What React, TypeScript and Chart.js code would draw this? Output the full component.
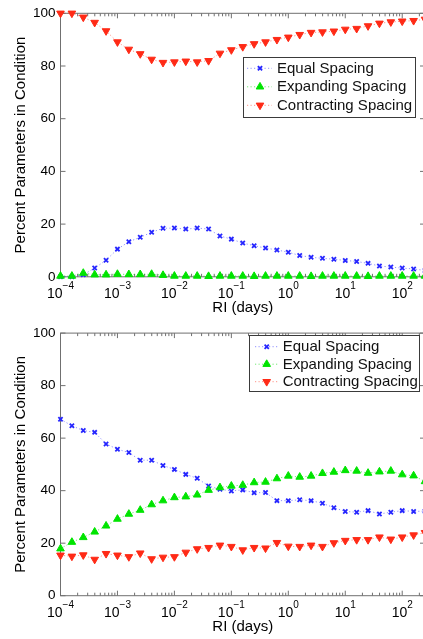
import { useEffect, useRef } from 'react';
import { Chart, registerables } from 'chart.js';
import { drawPoint } from 'chart.js/helpers';

Chart.register(...registerables);

// ---------- data ----------
const RI_DAYS = [
  0.0001, 0.0001585, 0.0002512, 0.0003981, 0.000631,
  0.001, 0.001585, 0.002512, 0.003981, 0.00631,
  0.01, 0.01585, 0.02512, 0.03981, 0.0631,
  0.1, 0.1585, 0.2512, 0.3981, 0.631,
  1, 1.585, 2.512, 3.981, 6.31,
  10, 15.85, 25.12, 39.81, 63.1,
  100, 158.5, 251.2,
];
const X_AXIS_MIN = 0.0001;
const X_AXIS_MAX = 251.19;
const X_TICK_EXPONENTS = [-4, -3, -2, -1, 0, 1, 2];
const Y_TICKS = [0, 20, 40, 60, 80, 100];
const SERIES_LABELS = ['Equal Spacing', 'Expanding Spacing', 'Contracting Spacing'];
const X_TITLE = 'RI (days)';
const Y_TITLE = 'Percent Parameters in Condition';

const TOP_EQUAL = [
  0, 0, 0.8, 3.3, 6.3, 10.5, 13.3, 15, 16.9, 18.4, 18.5, 18.1, 18.5, 18.1, 15.5, 14.3,
  12.8, 11.8, 10.9, 10.2, 9.3, 8.1, 7.4, 7, 6.7, 6.2, 5.8, 5.1, 4.1, 3.7, 3.3, 3, 2.4,
];
const TOP_EXPANDING = [
  0.3, 0.3, 1.4, 0.8, 0.8, 1, 0.9, 0.9, 1, 0.6, 0.3, 0.3, 0.3, 0.2, 0.3, 0.3,
  0.3, 0.2, 0.3, 0.3, 0.3, 0.3, 0.2, 0.3, 0.3, 0.3, 0.3, 0.2, 0.3, 0.3, 0.3, 0.3, 0.3,
];
const TOP_CONTRACTING = [
  100, 100, 98.5, 96.5, 93.3, 89.1, 86.3, 84.6, 82.5, 81.3, 81.5, 81.8, 81.5, 82, 84.8, 86.1,
  87.3, 88.4, 89.1, 90, 90.9, 91.9, 92.7, 92.9, 93.2, 93.9, 94.2, 95.2, 96.2, 96.7, 97, 97.2, 97.7,
];

const BOTTOM_EQUAL = [
  67.2, 64.7, 62.9, 62.2, 57.8, 55.8, 54.5, 51.6, 51.6, 49.6, 48.1, 46.2, 44.7, 41.8, 40.5, 39.9,
  40.3, 39.2, 39.3, 36.2, 36.2, 36.5, 36.2, 35.2, 33.5, 32.1, 31.8, 32.4, 31.1, 31.8, 32.4, 32.1, 32.2,
];
const BOTTOM_EXPANDING = [
  17.9, 20.4, 22.2, 24.3, 26.6, 29.2, 31.1, 32.6, 34.7, 36.2, 37.4, 37.7, 38.4, 40.2, 41.2, 41.8,
  42.1, 43.1, 43.3, 44.6, 45.6, 45.2, 45.6, 46.6, 47.1, 47.7, 47.5, 46.7, 47.2, 47.5, 46.1, 45.7, 43.5,
];
const BOTTOM_CONTRACTING = [
  15.4, 15, 15.5, 13.8, 16, 15.4, 14.8, 16.2, 14, 14.6, 14.8, 16.5, 17.8, 18.3, 19.2, 18.7,
  17.4, 18.3, 18.1, 20.2, 18.8, 18.7, 19.2, 18.7, 20.1, 21, 21.3, 21.3, 22.3, 21.5, 22.3, 23.1, 24,
];

// ---------- styling ----------
const FONT = '"Liberation Sans", Arial, Helvetica, sans-serif';
const FRAME_COLOR = '#707070';

const framePlugin = {
  id: 'matlabFrame',
  beforeDatasetsDraw(chart: any) {
    const { ctx, chartArea: a, scales } = chart;
    const x = scales.x;
    const y = scales.y;
    ctx.save();
    ctx.strokeStyle = FRAME_COLOR;
    ctx.lineWidth = 1;
    ctx.strokeRect(a.left, a.top, a.right - a.left, a.bottom - a.top);
    ctx.beginPath();
    for (const e of X_TICK_EXPONENTS) {
      for (let m = 1; m <= 9; m++) {
        const v = m * Math.pow(10, e);
        if (v < x.min * 0.999 || v > x.max) continue;
        const px = x.getPixelForValue(v);
        const len = m === 1 ? 5 : 3;
        ctx.moveTo(px, a.bottom);
        ctx.lineTo(px, a.bottom - len);
        ctx.moveTo(px, a.top);
        ctx.lineTo(px, a.top + len);
      }
    }
    for (const v of Y_TICKS) {
      const py = y.getPixelForValue(v);
      ctx.moveTo(a.left, py);
      ctx.lineTo(a.left + 5, py);
      ctx.moveTo(a.right, py);
      ctx.lineTo(a.right - 5, py);
    }
    ctx.stroke();

    ctx.fillStyle = '#000';
    ctx.textAlign = 'left';
    ctx.textBaseline = 'alphabetic';
    for (const e of X_TICK_EXPONENTS) {
      const px = x.getPixelForValue(Math.pow(10, e));
      const base = '10';
      const exp = e < 0 ? '\u2212' + String(-e) : String(e);
      ctx.font = `14px ${FONT}`;
      const wb = ctx.measureText(base).width;
      ctx.font = `10px ${FONT}`;
      const we = ctx.measureText(exp).width;
      const start = px - (wb + we) / 2;
      ctx.font = `14px ${FONT}`;
      ctx.fillText(base, start, a.bottom + 21.5);
      ctx.font = `10px ${FONT}`;
      ctx.fillText(exp, start + wb, a.bottom + 12);
    }
    ctx.restore();
  },
};

const legendPlugin = {
  id: 'boxLegend',
  afterDatasetsDraw(chart: any, _args: any, opts: any) {
    const { ctx } = chart;
    const [x0, y0, x1, y1] = opts.box;
    ctx.save();
    ctx.fillStyle = '#fff';
    ctx.fillRect(x0, y0, x1 - x0, y1 - y0);
    ctx.strokeStyle = '#3a3a3a';
    ctx.lineWidth = 1;
    ctx.strokeRect(x0 + 0.5, y0 + 0.5, x1 - x0, y1 - y0);
    chart.data.datasets.forEach((ds: any, i: number) => {
      const ry = opts.rows[i];
      ctx.setLineDash(ds.borderDash || []);
      ctx.strokeStyle = ds.borderColor;
      ctx.lineWidth = ds.borderWidth;
      ctx.beginPath();
      ctx.moveTo(opts.line[0], ry);
      ctx.lineTo(opts.line[1], ry);
      ctx.stroke();
      ctx.setLineDash([]);
      ctx.fillStyle = ds.pointBackgroundColor;
      ctx.strokeStyle = ds.pointBorderColor;
      ctx.lineWidth = ds.pointBorderWidth;
      drawPoint(
        ctx,
        {
          pointStyle: ds.pointStyle,
          rotation: ds.pointRotation || 0,
          radius: ds.pointRadius,
          borderWidth: ds.pointBorderWidth,
        } as any,
        opts.marker,
        ry
      );
      ctx.fillStyle = '#111';
      ctx.font = `15px ${FONT}`;
      ctx.textAlign = 'left';
      ctx.textBaseline = 'alphabetic';
      ctx.fillText(ds.label, opts.text, ry + 4.6);
    });
    ctx.restore();
  },
};

type PanelProps = {
  equal: number[];
  expanding: number[];
  contracting: number[];
  top: number;
  height: number;
  padTop: number;
  xHeight: number;
  titlePadBottom: number;
  legend: any;
};

function Panel(p: PanelProps) {
  const ref = useRef<HTMLCanvasElement | null>(null);
  useEffect(() => {
    if (!ref.current) return;
    const pts = (vals: number[]) => RI_DAYS.map((x, i) => ({ x, y: vals[i] }));
    const chart = new Chart(ref.current, {
      type: 'line',
      data: {
        datasets: [
          {
            label: SERIES_LABELS[0],
            data: pts(p.equal),
            borderColor: 'rgba(70,70,255,0.6)',
            borderWidth: 1,
            borderDash: [1.2, 2.3],
            pointStyle: 'crossRot',
            pointRadius: 3,
            pointBorderWidth: 1.8,
            pointBackgroundColor: '#2626ff',
            pointBorderColor: '#2626ff',
            order: 2,
            clip: false,
          } as any,
          {
            label: SERIES_LABELS[1],
            data: pts(p.expanding),
            borderColor: 'rgba(0,215,0,0.55)',
            borderWidth: 1,
            borderDash: [1.2, 2.3],
            pointStyle: 'triangle',
            pointRadius: 4.4,
            pointBorderWidth: 1,
            pointBackgroundColor: '#00e400',
            pointBorderColor: '#00e400',
            order: 1,
            clip: false,
          } as any,
          {
            label: SERIES_LABELS[2],
            data: pts(p.contracting),
            borderColor: 'rgba(255,60,40,0.55)',
            borderWidth: 1,
            borderDash: [1.2, 2.3],
            pointStyle: 'triangle',
            pointRotation: 180,
            pointRadius: 4.4,
            pointBorderWidth: 1,
            pointBackgroundColor: '#ff2a16',
            pointBorderColor: '#ff2a16',
            order: 0,
            clip: false,
          } as any,
        ],
      },
      options: {
        responsive: false,
        animation: false,
        events: [],
        devicePixelRatio: 1,
        layout: { autoPadding: false, padding: { top: p.padTop, right: 1, left: 0, bottom: 0 } },
        plugins: {
          legend: { display: false },
          tooltip: { enabled: false },
          boxLegend: p.legend,
        } as any,
        scales: {
          x: {
            type: 'logarithmic',
            bounds: 'data',
            min: X_AXIS_MIN,
            max: X_AXIS_MAX,
            ticks: { display: false },
            grid: { display: false, drawTicks: false },
            border: { display: false },
            title: {
              display: true,
              text: X_TITLE,
              color: '#000',
              font: { family: FONT, size: 15 },
              padding: { top: 0, bottom: p.titlePadBottom },
            },
            afterFit: (s: any) => {
              s.height = p.xHeight;
            },
          },
          y: {
            min: 0,
            max: 100,
            ticks: {
              stepSize: 20,
              color: '#000',
              padding: 5,
              font: { family: FONT, size: 13.5 },
            },
            grid: { display: false, drawTicks: false },
            border: { display: false },
            title: {
              display: true,
              text: Y_TITLE,
              color: '#000',
              font: { family: FONT, size: 15 },
              padding: { top: 12, bottom: 0 },
            },
            afterFit: (s: any) => {
              s.width = 60.5;
            },
          },
        } as any,
      },
      plugins: [framePlugin, legendPlugin],
    });
    return () => chart.destroy();
  }, []);
  return (
    <canvas
      ref={ref}
      width={426}
      height={p.height}
      style={{ position: 'absolute', left: 0, top: p.top, width: 426, height: p.height, display: 'block' }}
    />
  );
}

export default function App() {
  return (
    <div
      style={{
        position: 'absolute',
        left: 0,
        top: 0,
        width: 423,
        height: 639,
        overflow: 'hidden',
        background: '#fff',
      }}
    >
      <Panel
        equal={TOP_EQUAL}
        expanding={TOP_EXPANDING}
        contracting={TOP_CONTRACTING}
        top={0}
        height={320}
        padTop={13.3}
        xHeight={43.2}
        titlePadBottom={3.5}
        legend={{ box: [243, 57, 415, 117], rows: [68.3, 86.8, 105.3], line: [247, 272], marker: 260, text: 277 }}
      />
      <Panel
        equal={BOTTOM_EQUAL}
        expanding={BOTTOM_EXPANDING}
        contracting={BOTTOM_CONTRACTING}
        top={320}
        height={319}
        padTop={11.7}
        xHeight={43.3}
        titlePadBottom={3}
        legend={{ box: [249, 15, 419, 71], rows: [26.7, 44.2, 61.7], line: [255, 278], marker: 266.7, text: 282.7 }}
      />
    </div>
  );
}
